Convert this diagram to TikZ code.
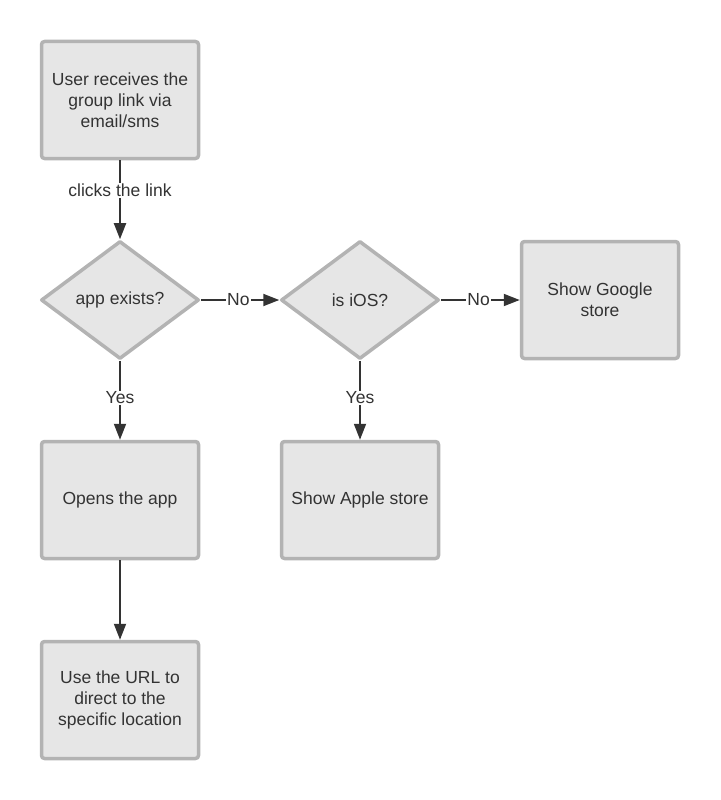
\documentclass[tikz,border=0pt]{standalone}
\usepackage{fontspec}
\setmainfont{Liberation Sans}
\usetikzlibrary{shapes.geometric,arrows.meta}
\definecolor{boxfill}{HTML}{E6E6E6}
\definecolor{boxline}{HTML}{B3B3B3}
\definecolor{ink}{HTML}{333333}
\begin{document}
\begin{tikzpicture}[x=1pt,y=-1pt,line join=round,
    stepbox/.style={draw=boxline,fill=boxfill,line width=3.5pt,rounded corners=3pt,
      minimum width=157pt,minimum height=117pt,align=center,text=ink,
      font=\fontsize{17.5}{21}\selectfont},
    choice/.style={diamond,draw=boxline,fill=boxfill,line width=3.5pt,
      minimum width=158pt,minimum height=118pt,inner sep=0pt,text=ink,
      font=\fontsize{17.5}{21}\selectfont},
    flow/.style={draw=ink,line width=1.8pt,-{Triangle[length=16pt,width=12pt]}},
    lbl/.style={fill=white,inner sep=1pt,text=ink,font=\fontsize{17.5}{21}\selectfont}]
        \useasboundingbox (0,0) rectangle (720,800);

        % boxes
        \node[stepbox] (receive) at (120,100) {User receives the\\group link via\\email/sms};
        \node[choice] (exists) at (120,300) {app exists?};
        \node[choice] (ios) at (360,300) {is iOS?};
        \node[stepbox] (google) at (600,300) {Show Google\\store};
        \node[stepbox] (opens) at (120,500) {Opens the app};
        \node[stepbox] (apple) at (360,500) {Show Apple store};
        \node[stepbox] (url) at (120,700) {Use the URL to\\direct to the\\specific location};

        % arrows
        \draw[flow] (receive) -- node[lbl,pos=0.38] {clicks the link} (exists);
        \draw[flow] (exists) -- node[lbl,pos=0.48] {No} (ios);
        \draw[flow] (ios) -- node[lbl,pos=0.48] {No} (google);
        \draw[flow] (exists) -- node[lbl,pos=0.47] {Yes} (opens);
        \draw[flow] (ios) -- node[lbl,pos=0.47] {Yes} (apple);
        \draw[flow] (opens) -- (url);
      \end{tikzpicture}
\end{document}
